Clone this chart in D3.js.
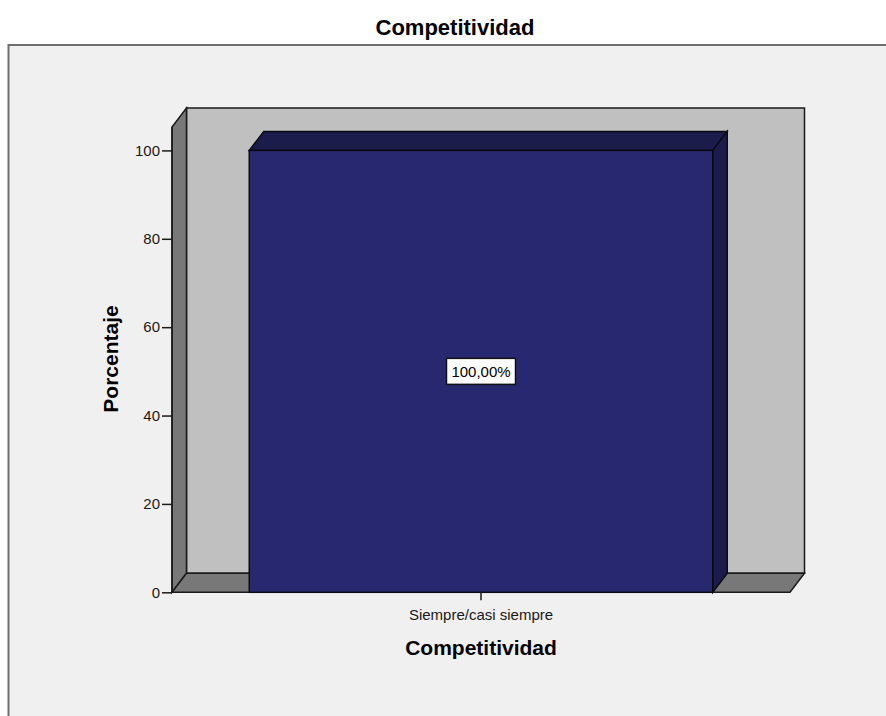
<!DOCTYPE html>
<html>
<head>
<meta charset="utf-8">
<script src="https://cdn.jsdelivr.net/npm/d3@7"></script>
<style>
  html, body { margin: 0; padding: 0; background: #ffffff; }
  svg { display: block; font-family: "Liberation Sans", Arial, sans-serif; }
</style>
</head>
<body>
<svg id="chart" width="886" height="716"></svg>
<script>
// ---- data ----
const categories = ["Siempre/casi siempre"];
const percentages = [100];
const valueLabels = ["100,00%"];
const yTicks = [0, 20, 40, 60, 80, 100];
const chartTitle = "Competitividad";
const xTitle = "Competitividad";
const yTitle = "Porcentaje";

// ---- layout ----
const W = 886, H = 716;
const plot = { left: 172, right: 790, bottom: 592.3, top: 127 };
const depth = { dx: 14.5, dy: 19 };
const yMax = 105.3;

const svg = d3.select("#chart");

// outer frame
svg.append("rect").attr("x", 0).attr("y", 0).attr("width", W).attr("height", H).attr("fill", "#ffffff");
svg.append("rect").attr("x", 8.5).attr("y", 45).attr("width", W + 20).attr("height", H + 20)
  .attr("fill", "#f0f0f0").attr("stroke", "#6e6e6e").attr("stroke-width", 2);

// title
svg.append("text").attr("x", 455).attr("y", 35).attr("text-anchor", "middle")
  .attr("font-size", 22).attr("font-weight", "bold").attr("fill", "#000").text(chartTitle);

const x = d3.scaleBand().domain(categories).range([plot.left, plot.right])
  .paddingInner(0.25).paddingOuter(0.125);
const y = d3.scaleLinear().domain([0, yMax]).range([plot.bottom, plot.top]);

const g = svg.append("g");
const { dx, dy } = depth;
const y0 = y(0), yTop = y(yMax);

// back wall
g.append("polygon")
  .attr("points", [[plot.left + dx, yTop - dy], [plot.right + dx, yTop - dy], [plot.right + dx, y0 - dy], [plot.left + dx, y0 - dy]].map(p => p.join(",")).join(" "))
  .attr("fill", "#c0c0c0").attr("stroke", "#1a1a1a").attr("stroke-width", 1.5);
// side wall
g.append("polygon")
  .attr("points", [[plot.left, y0], [plot.left, yTop], [plot.left + dx, yTop - dy], [plot.left + dx, y0 - dy]].map(p => p.join(",")).join(" "))
  .attr("fill", "#787878").attr("stroke", "#1a1a1a").attr("stroke-width", 1.5);
// floor
g.append("polygon")
  .attr("points", [[plot.left, y0], [plot.right, y0], [plot.right + dx, y0 - dy], [plot.left + dx, y0 - dy]].map(p => p.join(",")).join(" "))
  .attr("fill", "#787878").attr("stroke", "#1a1a1a").attr("stroke-width", 1.5);

// bars
const bars = g.selectAll("g.bar").data(categories.map((c, i) => ({ c, v: percentages[i], label: valueLabels[i] })))
  .enter().append("g").attr("class", "bar");

bars.each(function(d) {
  const sel = d3.select(this);
  const x0 = x(d.c), x1 = x(d.c) + x.bandwidth();
  const yt = y(d.v);
  // top face
  sel.append("polygon")
    .attr("points", [[x0, yt], [x0 + dx, yt - dy], [x1 + dx, yt - dy], [x1, yt]].map(p => p.join(",")).join(" "))
    .attr("fill", "#1c1c4c").attr("stroke", "#0a0a14").attr("stroke-width", 1.5);
  // right face
  sel.append("polygon")
    .attr("points", [[x1, yt], [x1 + dx, yt - dy], [x1 + dx, y0 - dy], [x1, y0]].map(p => p.join(",")).join(" "))
    .attr("fill", "#1c1c4c").attr("stroke", "#0a0a14").attr("stroke-width", 1.5);
  // front face
  sel.append("rect").attr("x", x0).attr("y", yt).attr("width", x1 - x0).attr("height", y0 - yt)
    .attr("fill", "#27286f").attr("stroke", "#0a0a14").attr("stroke-width", 1.5);
  // value label
  const cx = (x0 + x1) / 2, cy = y(d.v / 2);
  sel.append("rect").attr("x", cx - 34.5).attr("y", cy - 13).attr("width", 69).attr("height", 26)
    .attr("fill", "#ffffff").attr("stroke", "#111").attr("stroke-width", 1.5);
  sel.append("text").attr("x", cx).attr("y", cy + 5.5).attr("text-anchor", "middle")
    .attr("font-size", 15).attr("fill", "#000").text(d.label);
});

// y axis
const yAxis = d3.axisLeft(y).tickValues(yTicks).tickSize(10).tickPadding(2).tickFormat(d3.format("d"));
const ya = svg.append("g").attr("transform", `translate(${plot.left},0)`).call(yAxis);
ya.select(".domain").attr("stroke", "#1a1a1a").attr("stroke-width", 1.5).attr("d", `M0,${y0}V${yTop}`);
ya.selectAll(".tick line").attr("stroke", "#1a1a1a").attr("stroke-width", 1.5);
ya.selectAll(".tick text").attr("font-size", 15).attr("fill", "#1a1a1a").attr("font-family", "Liberation Sans, Arial, sans-serif");

// x axis
const xAxis = d3.axisBottom(x).tickSize(8).tickPadding(9);
const xa = svg.append("g").attr("transform", `translate(0,${y0})`).call(xAxis);
xa.select(".domain").remove();
xa.selectAll(".tick line").attr("stroke", "#1a1a1a").attr("stroke-width", 1.5);
xa.selectAll(".tick text").attr("font-size", 15).attr("fill", "#1a1a1a").attr("font-family", "Liberation Sans, Arial, sans-serif");

// axis titles
svg.append("text").attr("x", (plot.left + plot.right) / 2).attr("y", 654.5).attr("text-anchor", "middle")
  .attr("font-size", 21).attr("font-weight", "bold").attr("fill", "#000").text(xTitle);
svg.append("text").attr("transform", "translate(117.5,359) rotate(-90)").attr("text-anchor", "middle")
  .attr("font-size", 21).attr("font-weight", "bold").attr("fill", "#000").text(yTitle);
</script>
</body>
</html>
